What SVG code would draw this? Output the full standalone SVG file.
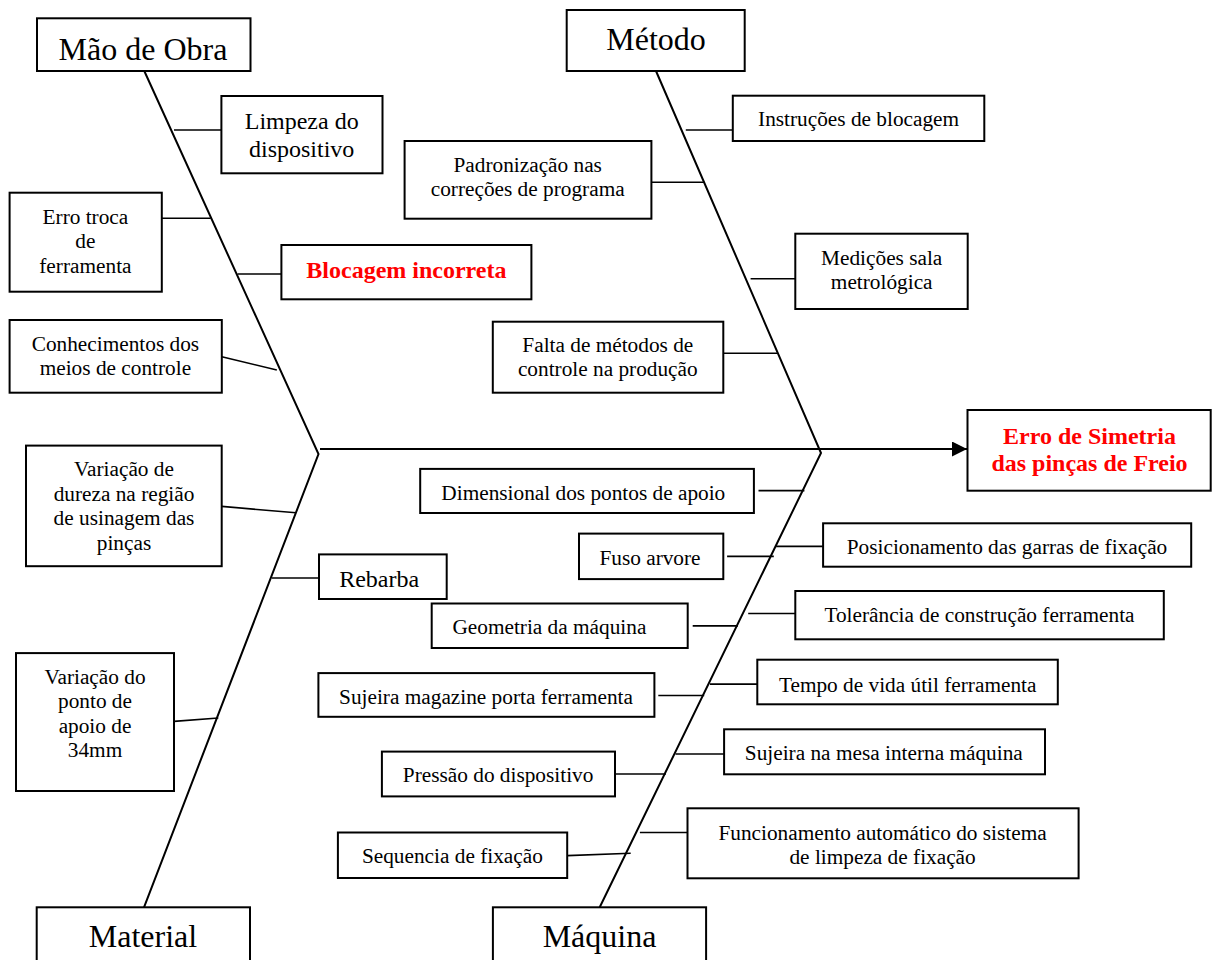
<svg xmlns="http://www.w3.org/2000/svg" width="1213" height="960" viewBox="0 0 1213 960">
<defs>
<style>
.box{fill:#fff;stroke:#000;stroke-width:2}
.ln{fill:none;stroke:#000;stroke-width:2}
.cn{fill:none;stroke:#000;stroke-width:1.6}
text{font-family:"Liberation Serif","Times New Roman",serif;fill:#000;text-anchor:middle}
.s{font-size:21.3px}
.m{font-size:24px}
.b{font-size:32px}
.r{font-size:24px;font-weight:bold;fill:#ff0000}
</style>
<marker id="ah" markerWidth="16" markerHeight="16" refX="15" refY="7.5" orient="auto" markerUnits="userSpaceOnUse">
<polygon points="0,0 15,7.5 0,15" fill="#000"/>
</marker>
</defs>
<rect width="1213" height="960" fill="#fff"/>

<g id="connectors">
<polyline class="ln" points="144.3,71 318.5,454 144,907.3"/>
<polyline class="ln" points="656,71 821,453 599.7,907.3"/>
<line class="ln" x1="320" y1="449" x2="967" y2="449" marker-end="url(#ah)"/>
<!-- Mao de Obra -->
<line class="cn" x1="174" y1="130" x2="221.4" y2="130"/>
<line class="cn" x1="161.8" y1="218.3" x2="210.7" y2="218.3"/>
<line class="cn" x1="237.5" y1="274" x2="281.4" y2="274"/>
<line class="cn" x1="221.8" y1="356.7" x2="276.8" y2="370"/>
<!-- Metodo -->
<line class="cn" x1="685.8" y1="130" x2="732.8" y2="130"/>
<line class="cn" x1="651.4" y1="182.3" x2="704.4" y2="182.3"/>
<line class="cn" x1="750.6" y1="278.7" x2="795.3" y2="278.7"/>
<line class="cn" x1="723.3" y1="353.3" x2="777.5" y2="353.3"/>
<!-- Material -->
<line class="cn" x1="221.7" y1="506.4" x2="296" y2="512.8"/>
<line class="cn" x1="271.7" y1="578" x2="319" y2="578"/>
<line class="cn" x1="174" y1="721.4" x2="218.3" y2="718"/>
<!-- Maquina -->
<line class="cn" x1="758.5" y1="490.6" x2="804.4" y2="490.6"/>
<line class="cn" x1="727.1" y1="556.4" x2="773.8" y2="556.4"/>
<line class="cn" x1="776.1" y1="546.4" x2="823.1" y2="546.4"/>
<line class="cn" x1="692.7" y1="625.9" x2="737.9" y2="625.9"/>
<line class="cn" x1="748.2" y1="613.5" x2="795.3" y2="613.5"/>
<line class="cn" x1="658.3" y1="695.5" x2="704.2" y2="695.5"/>
<line class="cn" x1="709.9" y1="684.1" x2="757.3" y2="684.1"/>
<line class="cn" x1="615" y1="774" x2="665.9" y2="774"/>
<line class="cn" x1="675.5" y1="754" x2="724.1" y2="754"/>
<line class="cn" x1="567.2" y1="855.6" x2="630.7" y2="853.2"/>
<line class="cn" x1="639.9" y1="832.5" x2="687.5" y2="832.5"/>
</g>

<g id="mao-de-obra"><rect class="box" x="37" y="18.3" width="213.5" height="52.7"/><text class="b" x="143" y="60">Mão de Obra</text></g>
<g id="metodo"><rect class="box" x="566.7" y="10" width="178" height="61"/><text class="b" x="656" y="50">Método</text></g>
<g id="material"><rect class="box" x="36.7" y="907.3" width="213.3" height="70"/><text class="b" x="143" y="947">Material</text></g>
<g id="maquina"><rect class="box" x="492.9" y="907.3" width="213.2" height="70"/><text class="b" x="599.5" y="947">Máquina</text></g>

<g id="efeito"><rect class="box" x="967.5" y="410" width="243.2" height="80.7"/><text class="r" x="1089.5" y="444"><tspan x="1089.5">Erro de Simetria</tspan><tspan x="1089.5" y="471">das pinças de Freio</tspan></text></g>

<g id="limpeza"><rect class="box" x="221.4" y="96" width="161.1" height="77.3"/><text class="m" x="301.7" y="129.3"><tspan x="301.7">Limpeza do</tspan><tspan x="301.7" y="156.7">dispositivo</tspan></text></g>
<g id="erro-troca"><rect class="box" x="9.6" y="192.7" width="152.2" height="99"/><text class="s" x="85.4" y="224"><tspan x="85.4">Erro troca</tspan><tspan x="85.4" y="248.3">de</tspan><tspan x="85.4" y="272.7">ferramenta</tspan></text></g>
<g id="blocagem"><rect class="box" x="281.4" y="245" width="250" height="54.3"/><text class="r" x="406.4" y="277.7">Blocagem incorreta</text></g>
<g id="conhecimentos"><rect class="box" x="9.6" y="320" width="212.2" height="72.7"/><text class="s" x="115.4" y="351"><tspan x="115.4">Conhecimentos dos</tspan><tspan x="115.4" y="375">meios de controle</tspan></text></g>

<g id="instrucoes"><rect class="box" x="732.8" y="95.7" width="251.5" height="45.3"/><text class="s" x="858.6" y="126">Instruções de blocagem</text></g>
<g id="padronizacao"><rect class="box" x="404.6" y="141" width="246.8" height="77.7"/><text class="s" x="527.7" y="171.7"><tspan x="527.7">Padronização nas</tspan><tspan x="527.7" y="196">correções de programa</tspan></text></g>
<g id="medicoes"><rect class="box" x="795.3" y="233.7" width="172.4" height="75.3"/><text class="s" x="881.7" y="265"><tspan x="881.7">Medições sala</tspan><tspan x="881.7" y="289.3">metrológica</tspan></text></g>
<g id="falta"><rect class="box" x="492.8" y="321.7" width="230.5" height="71"/><text class="s" x="607.8" y="351.7"><tspan x="607.8">Falta de métodos de</tspan><tspan x="607.8" y="376.3">controle na produção</tspan></text></g>

<g id="variacao-dureza"><rect class="box" x="26" y="445.6" width="195.7" height="120.6"/><text class="s" x="124" y="476.3"><tspan x="124">Variação de</tspan><tspan x="124" y="500.8">dureza na região</tspan><tspan x="124" y="525.3">de usinagem das</tspan><tspan x="124" y="549.8">pinças</tspan></text></g>
<g id="rebarba"><rect class="box" x="319" y="554.4" width="127.7" height="44.6"/><text class="m" x="379.2" y="587.2">Rebarba</text></g>
<g id="variacao-ponto"><rect class="box" x="16" y="653.1" width="158" height="137.9"/><text class="s" x="95" y="683.5"><tspan x="95">Variação do</tspan><tspan x="95" y="708">ponto de</tspan><tspan x="95" y="732.5">apoio de</tspan><tspan x="95" y="757">34mm</tspan></text></g>

<g id="dimensional"><rect class="box" x="420.2" y="468.9" width="333.7" height="44.1"/><text class="s" x="583.3" y="499.9">Dimensional dos pontos de apoio</text></g>
<g id="fuso"><rect class="box" x="579" y="533.6" width="144.3" height="45.5"/><text class="s" x="650" y="564.6">Fuso arvore</text></g>
<g id="geometria"><rect class="box" x="431.7" y="603.5" width="256" height="44.5"/><text class="s" x="549.4" y="633.5">Geometria da máquina</text></g>
<g id="sujeira-magazine"><rect class="box" x="318.4" y="673.1" width="336" height="43.7"/><text class="s" x="486" y="704.1">Sujeira magazine porta ferramenta</text></g>
<g id="pressao"><rect class="box" x="381.9" y="751.6" width="233.1" height="44.8"/><text class="s" x="498.1" y="782.3">Pressão do dispositivo</text></g>
<g id="sequencia"><rect class="box" x="337.9" y="832.5" width="229.3" height="45.5"/><text class="s" x="452.4" y="862.5">Sequencia de fixação</text></g>

<g id="posicionamento"><rect class="box" x="823.1" y="523.3" width="368.1" height="43.4"/><text class="s" x="1007" y="554">Posicionamento das garras de fixação</text></g>
<g id="tolerancia"><rect class="box" x="795.3" y="591" width="368.5" height="48.3"/><text class="s" x="979.5" y="622.3">Tolerância de construção ferramenta</text></g>
<g id="tempo-vida"><rect class="box" x="757.3" y="659.7" width="300.5" height="44.6"/><text class="s" x="907.7" y="691.7">Tempo de vida útil ferramenta</text></g>
<g id="sujeira-mesa"><rect class="box" x="724.1" y="729.3" width="320.9" height="45"/><text class="s" x="883.8" y="760">Sujeira na mesa interna máquina</text></g>
<g id="funcionamento"><rect class="box" x="687.5" y="808.3" width="391.1" height="70"/><text class="s" x="882.6" y="840"><tspan x="882.6">Funcionamento automático do sistema</tspan><tspan x="882.6" y="864">de limpeza de fixação</tspan></text></g>
</svg>
